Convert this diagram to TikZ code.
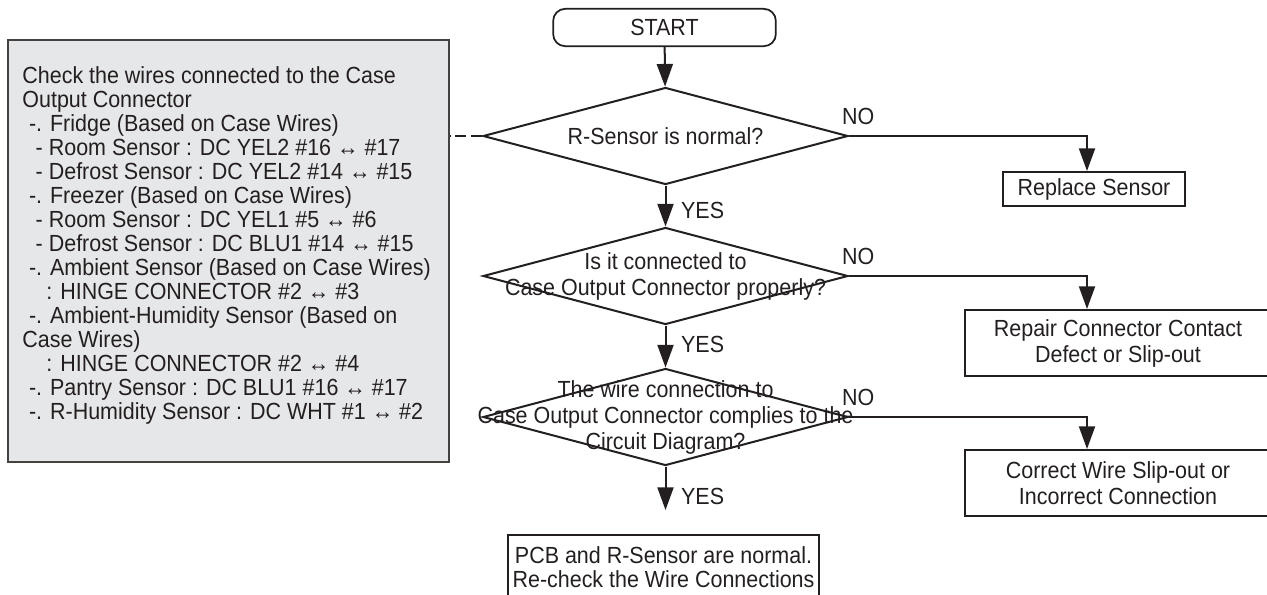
\documentclass[tikz,border=0pt]{standalone}
\usepackage{fontspec}
\setmainfont{Liberation Sans}[FakeStretch=0.92]
\usetikzlibrary{arrows.meta,shapes.geometric,positioning}
\definecolor{ink}{HTML}{231F20}
\definecolor{notefill}{HTML}{E6E7E8}

\begin{document}
\begin{tikzpicture}[x=.75pt,y=-.75pt,>={Triangle[length=17pt,width=12pt]},
  font=\fontsize{17.5}{19.5}\selectfont,text=ink,
  flow/.style={draw=ink,line width=1.5pt},
  startbox/.style={draw=ink,line width=1.3pt,rounded corners=9pt,minimum width=167pt,minimum height=28pt},
  decision/.style={diamond,draw=ink,line width=1.5pt,minimum width=273.75pt,minimum height=72.75pt,inner sep=0pt},
  qtext/.style={align=center,inner sep=0pt},
  actbox/.style={draw=ink,line width=1.5pt,align=center},
  notebox/.style={draw=ink!85,line width=1.3pt,fill=notefill,minimum width=330.75pt,minimum height=316.5pt},
  yes/.style={anchor=west,inner sep=0pt,xshift=11pt},
  no/.style={anchor=south,inner sep=0pt,xshift=7pt,yshift=8pt}]
\useasboundingbox (0,0) rectangle (1267,594);
% note box on the left
\node[notebox] (note) at (228.5,251) {};
\node[anchor=north west,align=left,inner sep=0pt,font=\fontsize{17.5}{18}\selectfont] (notetxt) at ([shift={(15,27)}]note.north west) {Check the wires connected to the Case\\
Output Connector\\
\hspace*{5pt}-. Fridge (Based on Case Wires)\\
\hspace*{10pt}- Room Sensor : DC YEL2 \#16 ↔ \#17\\
\hspace*{10pt}- Defrost Sensor : DC YEL2 \#14 ↔ \#15\\
\hspace*{5pt}-. Freezer (Based on Case Wires)\\
\hspace*{10pt}- Room Sensor : DC YEL1 \#5 ↔ \#6\\
\hspace*{10pt}- Defrost Sensor : DC BLU1 \#14 ↔ \#15\\
\hspace*{5pt}-. Ambient Sensor (Based on Case Wires)\\
\hspace*{18pt}: HINGE CONNECTOR \#2 ↔ \#3\\
\hspace*{5pt}-. Ambient-Humidity Sensor (Based on\\
Case Wires)\\
\hspace*{18pt}: HINGE CONNECTOR \#2 ↔ \#4\\
\hspace*{5pt}-. Pantry Sensor : DC BLU1 \#16 ↔ \#17\\
\hspace*{5pt}-. R-Humidity Sensor : DC WHT \#1 ↔ \#2};
% main flow
\node[startbox] (start) at (664.5,27.5) {START};
\node[decision,label={[qtext]center:R-Sensor is normal?}] (d1) at (665.5,136) {};
\node[decision,label={[qtext]center:{Is it connected to\\Case Output Connector properly?}}] (d2) at (665.5,276) {};
\node[decision,label={[qtext]center:{The wire connection to\\Case Output Connector complies to the\\Circuit Diagram?}}] (d3) at (665.5,417) {};
\node[actbox,minimum width=136.5pt,minimum height=25.5pt] (rep) at (1094,189) {Replace Sensor};
\node[actbox,minimum width=230pt,minimum height=49.5pt] (fix) at (1118,343) {Repair Connector Contact\\Defect or Slip-out};
\node[actbox,minimum width=230pt,minimum height=49.5pt] (wire) at (1118,483) {Correct Wire Slip-out or\\Incorrect Connection};
\node[actbox,minimum width=209.25pt,minimum height=48.75pt,font=\fontsize{17.5}{18}\selectfont] (ok) at (663.5,567.5) {PCB and R-Sensor are normal.\\Re-check the Wire Connections};
\coordinate (nox) at (1087,0);
\coordinate (endpt) at (665.5,510);
% connectors
\draw[flow,->] (start) -- (d1);
\draw[flow,->] (d1) -- node[yes,pos=.62]{YES} (d2);
\draw[flow,->] (d2) -- node[yes,pos=.45]{YES} (d3);
\draw[flow,->] (d3) -- node[yes,pos=.7]{YES} (endpt);
\draw[flow,->] (d1.east) node[no]{NO} -| (nox |- rep.north);
\draw[flow,->] (d2.east) node[no]{NO} -| (nox |- fix.north);
\draw[flow,->] (d3.east) node[no]{NO} -| (nox |- wire.north);
\draw[flow,dashed,dash pattern=on 8pt off 4pt,line width=1.2pt] (d1.west) -- (d1.west -| note.east);
\end{tikzpicture}
\end{document}
